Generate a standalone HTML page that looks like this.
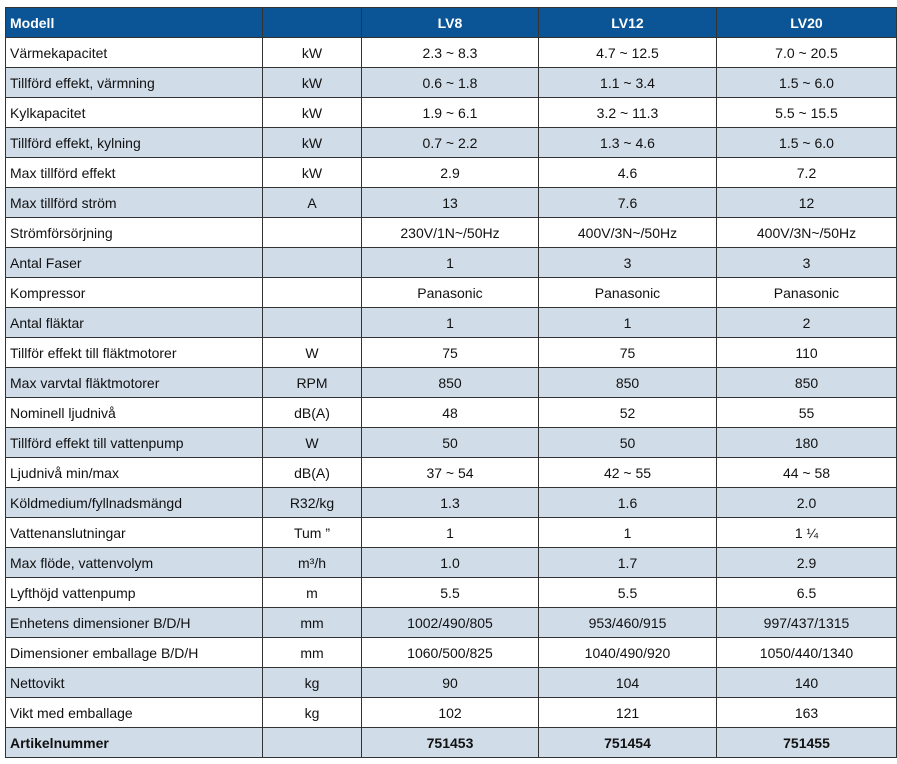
<!DOCTYPE html>
<html><head><meta charset="utf-8"><style>
body{margin:0;background:#fff;}
table{position:absolute;left:5px;top:7px;border-collapse:collapse;table-layout:fixed;width:891px;font-family:"Liberation Sans",sans-serif;font-size:14px;color:#111;}
td{border:1px solid #333;height:29px;padding:0;text-align:center;white-space:nowrap;}
td:first-child{text-align:left;padding-left:4px;}
tr:nth-child(odd) td{background:#d0dce8;}
tr.h td{background:#0b5596;color:#fff;font-weight:bold;border-color:#333;}
tr.h td:not(:first-child){border-left-color:#ccd;}
tr.b td{font-weight:bold;}
</style></head><body>
<table>
<colgroup><col style="width:257px"><col style="width:99px"><col style="width:177px"><col style="width:178px"><col style="width:180px"></colgroup>
<tr class="h"><td>Modell</td><td></td><td>LV8</td><td>LV12</td><td>LV20</td></tr>
<tr><td>Värmekapacitet</td><td>kW</td><td>2.3 ~ 8.3</td><td>4.7 ~ 12.5</td><td>7.0 ~ 20.5</td></tr>
<tr><td>Tillförd effekt, värmning</td><td>kW</td><td>0.6 ~ 1.8</td><td>1.1 ~ 3.4</td><td>1.5 ~ 6.0</td></tr>
<tr><td>Kylkapacitet</td><td>kW</td><td>1.9 ~ 6.1</td><td>3.2 ~ 11.3</td><td>5.5 ~ 15.5</td></tr>
<tr><td>Tillförd effekt, kylning</td><td>kW</td><td>0.7 ~ 2.2</td><td>1.3 ~ 4.6</td><td>1.5 ~ 6.0</td></tr>
<tr><td>Max tillförd effekt</td><td>kW</td><td>2.9</td><td>4.6</td><td>7.2</td></tr>
<tr><td>Max tillförd ström</td><td>A</td><td>13</td><td>7.6</td><td>12</td></tr>
<tr><td>Strömförsörjning</td><td></td><td>230V/1N~/50Hz</td><td>400V/3N~/50Hz</td><td>400V/3N~/50Hz</td></tr>
<tr><td>Antal Faser</td><td></td><td>1</td><td>3</td><td>3</td></tr>
<tr><td>Kompressor</td><td></td><td>Panasonic</td><td>Panasonic</td><td>Panasonic</td></tr>
<tr><td>Antal fläktar</td><td></td><td>1</td><td>1</td><td>2</td></tr>
<tr><td>Tillför effekt till fläktmotorer</td><td>W</td><td>75</td><td>75</td><td>110</td></tr>
<tr><td>Max varvtal fläktmotorer</td><td>RPM</td><td>850</td><td>850</td><td>850</td></tr>
<tr><td>Nominell ljudnivå</td><td>dB(A)</td><td>48</td><td>52</td><td>55</td></tr>
<tr><td>Tillförd effekt till vattenpump</td><td>W</td><td>50</td><td>50</td><td>180</td></tr>
<tr><td>Ljudnivå min/max</td><td>dB(A)</td><td>37 ~ 54</td><td>42 ~ 55</td><td>44 ~ 58</td></tr>
<tr><td>Köldmedium/fyllnadsmängd</td><td>R32/kg</td><td>1.3</td><td>1.6</td><td>2.0</td></tr>
<tr><td>Vattenanslutningar</td><td>Tum ”</td><td>1</td><td>1</td><td>1 ¼</td></tr>
<tr><td>Max flöde, vattenvolym</td><td>m³/h</td><td>1.0</td><td>1.7</td><td>2.9</td></tr>
<tr><td>Lyfthöjd vattenpump</td><td>m</td><td>5.5</td><td>5.5</td><td>6.5</td></tr>
<tr><td>Enhetens dimensioner B/D/H</td><td>mm</td><td>1002/490/805</td><td>953/460/915</td><td>997/437/1315</td></tr>
<tr><td>Dimensioner emballage B/D/H</td><td>mm</td><td>1060/500/825</td><td>1040/490/920</td><td>1050/440/1340</td></tr>
<tr><td>Nettovikt</td><td>kg</td><td>90</td><td>104</td><td>140</td></tr>
<tr><td>Vikt med emballage</td><td>kg</td><td>102</td><td>121</td><td>163</td></tr>
<tr class="b"><td>Artikelnummer</td><td></td><td>751453</td><td>751454</td><td>751455</td></tr>
</table>
</body></html>
